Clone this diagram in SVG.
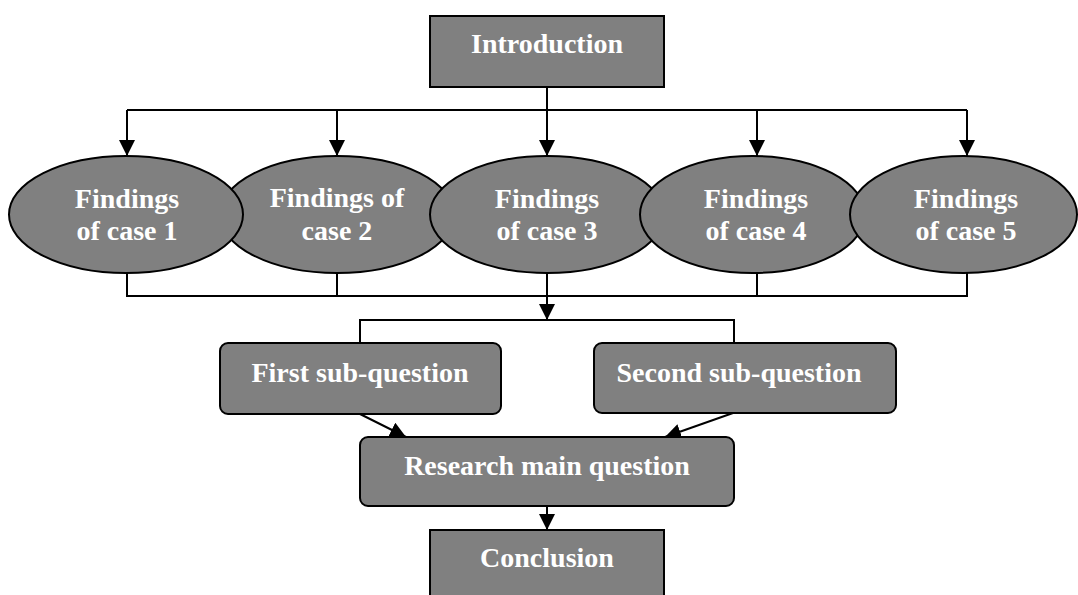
<svg xmlns="http://www.w3.org/2000/svg" width="1078" height="595" viewBox="0 0 1078 595">
  <style>
    .shape { fill: #808080; stroke: #000; stroke-width: 2; }
    .label { font-family: "Liberation Serif", "Times New Roman", serif; font-weight: bold; font-size: 28px; fill: #fff; text-anchor: middle; }
    .wire { fill: none; stroke: #000; stroke-width: 2; }
  </style>
  <defs>
    <marker id="arrow" markerUnits="userSpaceOnUse" markerWidth="16" markerHeight="16" refX="16" refY="8" orient="auto">
      <path d="M0,0 L16,8 L0,16 z" fill="#000"/>
    </marker>
  </defs>
  <rect width="1078" height="595" fill="#fff"/>

  <!-- connectors -->
  <g id="connectors">
    <path class="wire" d="M547,87 V110"/>
    <path class="wire" d="M127,110 H967"/>
    <path class="wire" d="M127,110 V156" marker-end="url(#arrow)"/>
    <path class="wire" d="M337,110 V156" marker-end="url(#arrow)"/>
    <path class="wire" d="M547,110 V156" marker-end="url(#arrow)"/>
    <path class="wire" d="M757,110 V156" marker-end="url(#arrow)"/>
    <path class="wire" d="M967,110 V156" marker-end="url(#arrow)"/>
    <path class="wire" d="M127,273 V296 H967 V273"/>
    <path class="wire" d="M337,273 V296"/>
    <path class="wire" d="M547,273 V296"/>
    <path class="wire" d="M757,273 V296"/>
    <path class="wire" d="M547,296 V320" marker-end="url(#arrow)"/>
    <path class="wire" d="M360,343 V320 H734 V343"/>
    <path class="wire" d="M360,414 L406,437" marker-end="url(#arrow)"/>
    <path class="wire" d="M733,413 L665,437" marker-end="url(#arrow)"/>
    <path class="wire" d="M547,506 V530" marker-end="url(#arrow)"/>
  </g>

  <g id="introduction">
    <rect class="shape" x="430" y="16" width="234" height="71"/>
    <text class="label" x="547" y="53">Introduction</text>
  </g>

  <g id="case2">
    <ellipse class="shape" cx="337" cy="214.5" rx="117" ry="58.5"/>
    <text class="label" x="337" y="207">Findings of</text>
    <text class="label" x="337" y="240">case 2</text>
  </g>
  <g id="case1">
    <ellipse class="shape" cx="126" cy="214.5" rx="117" ry="58.5"/>
    <text class="label" x="127" y="208">Findings</text>
    <text class="label" x="127" y="240">of case 1</text>
  </g>
  <g id="case3">
    <ellipse class="shape" cx="547" cy="214.5" rx="117" ry="58.5"/>
    <text class="label" x="547" y="208">Findings</text>
    <text class="label" x="547" y="240">of case 3</text>
  </g>
  <g id="case4">
    <ellipse class="shape" cx="752.5" cy="214.5" rx="112.5" ry="58.5"/>
    <text class="label" x="756" y="208">Findings</text>
    <text class="label" x="756" y="240">of case 4</text>
  </g>
  <g id="case5">
    <ellipse class="shape" cx="963.5" cy="214.5" rx="113.5" ry="58.5"/>
    <text class="label" x="966" y="208">Findings</text>
    <text class="label" x="966" y="240">of case 5</text>
  </g>

  <g id="first-sub-question">
    <rect class="shape" x="220" y="343" width="281" height="71" rx="8"/>
    <text class="label" x="360" y="382">First sub-question</text>
  </g>
  <g id="second-sub-question">
    <rect class="shape" x="594" y="343" width="302" height="70" rx="8"/>
    <text class="label" x="739" y="382">Second sub-question</text>
  </g>

  <g id="research-main-question">
    <rect class="shape" x="360" y="437" width="374" height="69" rx="8"/>
    <text class="label" x="547" y="475">Research main question</text>
  </g>

  <g id="conclusion">
    <rect class="shape" x="430" y="530" width="234" height="75"/>
    <text class="label" x="547" y="567">Conclusion</text>
  </g>
</svg>
